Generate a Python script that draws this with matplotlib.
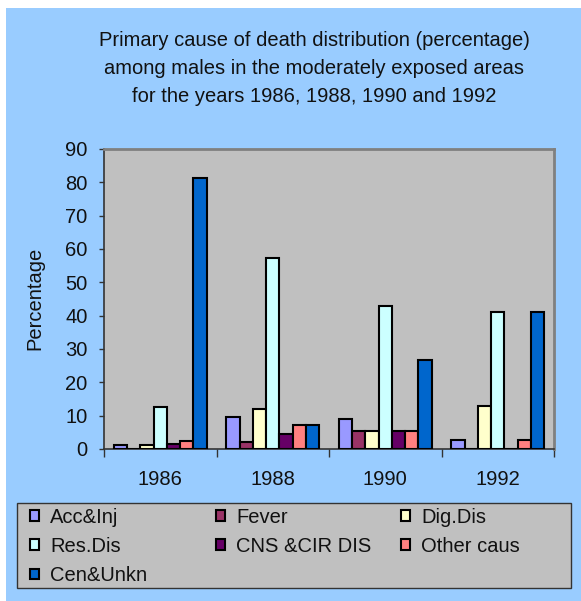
import matplotlib
matplotlib.use("Agg")
import matplotlib.pyplot as plt
from matplotlib.patches import Rectangle
import numpy as np

plt.rcParams['font.family'] = ['Liberation Sans', 'DejaVu Sans']

years = ["1986", "1988", "1990", "1992"]
causes = ["Acc&Inj", "Fever", "Dig.Dis", "Res.Dis", "CNS &CIR DIS", "Other caus", "Cen&Unkn"]
colors = ["#9999FF", "#993366", "#FFFFCC", "#CCFFFF", "#660066", "#FF8080", "#0066CC"]

acc_inj = [1.2, 9.5, 8.9, 2.7]
fever = [0.0, 2.2, 5.3, 0.0]
dig_dis = [1.3, 12.0, 5.3, 12.9]
res_dis = [12.5, 57.2, 43.0, 41.0]
cns_cir = [1.4, 4.6, 5.3, 0.0]
other = [2.5, 7.1, 5.3, 2.7]
cen_unkn = [81.3, 7.1, 26.7, 41.0]
series = [acc_inj, fever, dig_dis, res_dis, cns_cir, other, cen_unkn]

FS = 14.5
W, H = 581, 601
fig = plt.figure(figsize=(W / 100, H / 100), dpi=100, facecolor="white")
fig.patches.append(Rectangle((6 / W, 0), 1, 1 - 8 / H, transform=fig.transFigure,
                             facecolor="#99CCFF", edgecolor="none", zorder=-10))

ax = fig.add_axes([104 / W, 1 - 449 / H, (554 - 104) / W, (449 - 149) / H])
ax.set_facecolor("#C0C0C0")

n = len(causes)
bw = 1.0 / (n + 1.5)
x = np.arange(len(years))
handles = []
for j, (vals, c, name) in enumerate(zip(series, colors, causes)):
    b = ax.bar(x + (j - (n - 1) / 2) * bw, vals, width=bw, color=c,
               edgecolor="black", linewidth=1.5, label=name, zorder=3)
    handles.append(b)

ax.set_xlim(-0.5, len(years) - 0.5)
ax.set_ylim(0, 90)
ax.set_yticks(np.arange(0, 91, 10))
ax.set_xticks(x)
ax.set_xticklabels(years)
ax.set_xticks(np.arange(-0.5, len(years), 1.0), minor=True)
ax.tick_params(axis="x", which="major", length=0, pad=15, labelsize=FS, colors="#111111")
ax.tick_params(axis="x", which="minor", length=5.4, width=1, color="#333333", direction="out")
ax.tick_params(axis="y", which="major", length=3.8, width=1, color="#333333", direction="out",
               labelsize=FS, labelcolor="#111111", pad=8)

for s in ["left", "bottom"]:
    ax.spines[s].set_color("#333333")
    ax.spines[s].set_linewidth(1.2)
for s in ["top", "right"]:
    ax.spines[s].set_color("#808080")
    ax.spines[s].set_linewidth(2)

fig.text(35 / W, 1 - 298 / H, "Percentage", rotation=90, ha="center", va="center",
         fontsize=FS, color="#111111")

title_lines = ["Primary cause of death distribution (percentage)",
               "among males in the moderately exposed areas",
               "for the years 1986, 1988, 1990 and 1992"]
for k, line in enumerate(title_lines):
    fig.text(314 / W, 1 - (40 + 28 * k) / H, line, ha="center", va="center",
             fontsize=FS, color="#111111")

# legend frame
fig.patches.append(Rectangle((17 / W, 1 - 588 / H), (571 - 17) / W, (588 - 503) / H,
                             transform=fig.transFigure, facecolor="#C0C0C0",
                             edgecolor="#333333", linewidth=1, zorder=1))
columns = [[0, 3, 6], [1, 4], [2, 5]]
col_x = [30, 216, 401]
for idx, cx in zip(columns, col_x):
    leg = fig.legend([handles[i] for i in idx], [causes[i] for i in idx], ncol=1,
                     loc="upper left", bbox_to_anchor=(cx / W, 1 - 508 / H),
                     frameon=False, fontsize=FS, handlelength=0.45, handleheight=0.45,
                     handletextpad=0.55, labelspacing=0.5, borderpad=0, borderaxespad=0)
    leg.set_zorder(5)
    for t in leg.get_texts():
        t.set_color("#111111")

fig.savefig("out.png", dpi=100, facecolor=fig.get_facecolor())
